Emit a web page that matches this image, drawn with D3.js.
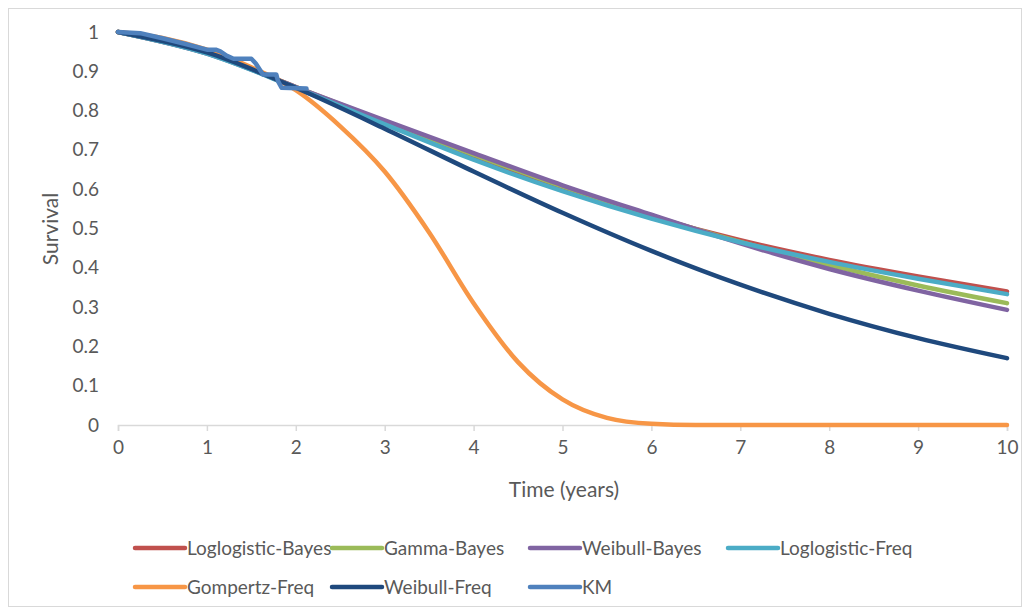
<!DOCTYPE html>
<html>
<head>
<meta charset="utf-8">
<script src="https://cdn.jsdelivr.net/npm/d3@7"></script>
<style>
  body { margin: 0; background: #fff; }
  text { font-family: Lato, "Open Sans", sans-serif; fill: #595959; }
</style>
</head>
<body>
<div id="chart"></div>
<script>
// time points (years)
var years = [0, 1, 2, 3, 4, 5, 6, 7, 8, 9, 10];
var halfYears = [0, 0.5, 1, 1.5, 2, 2.5, 3, 3.5, 4, 4.5, 5, 5.5, 6, 6.5, 7, 7.5, 8, 8.5, 9, 9.5, 10];

// modelled survival
var loglogBayes = [1, 0.946, 0.86, 0.768, 0.68, 0.6, 0.53, 0.47, 0.42, 0.378, 0.34];
var gammaBayes  = [1, 0.946, 0.86, 0.772, 0.688, 0.607, 0.533, 0.466, 0.407, 0.355, 0.31];
var weibBayes   = [1, 0.945, 0.86, 0.775, 0.692, 0.61, 0.535, 0.462, 0.397, 0.342, 0.293];
var loglogFreq  = [1, 0.945, 0.858, 0.765, 0.675, 0.595, 0.525, 0.465, 0.415, 0.372, 0.333];
var gompFreq    = [1, 0.985, 0.955, 0.91, 0.852, 0.76, 0.645, 0.49, 0.31, 0.16, 0.065, 0.018, 0.003, 0, 0, 0, 0, 0, 0, 0, 0];
var weibFreq    = [1, 0.948, 0.858, 0.754, 0.645, 0.54, 0.443, 0.357, 0.283, 0.221, 0.17];

// Kaplan-Meier
var kmTime = [0, 0.25, 0.5, 0.75, 1.0, 1.1, 1.15, 1.22, 1.3, 1.5, 1.55, 1.63, 1.78, 1.8, 1.84, 2.12];
var kmSurv = [1, 0.997, 0.984, 0.97, 0.955, 0.955, 0.951, 0.94, 0.932, 0.932, 0.92, 0.892, 0.892, 0.875, 0.858, 0.856];

var xTicks = [0, 1, 2, 3, 4, 5, 6, 7, 8, 9, 10];
var yTicks = [0, 0.1, 0.2, 0.3, 0.4, 0.5, 0.6, 0.7, 0.8, 0.9, 1];

var series = [
  {name: "Loglogistic-Bayes", color: "#C0504D", t: years, s: loglogBayes},
  {name: "Gamma-Bayes",       color: "#9BBB59", t: years, s: gammaBayes},
  {name: "Weibull-Bayes",     color: "#8064A2", t: years, s: weibBayes},
  {name: "Loglogistic-Freq",  color: "#4BACC6", t: years, s: loglogFreq},
  {name: "Gompertz-Freq",     color: "#F79646", t: halfYears, s: gompFreq},
  {name: "Weibull-Freq",      color: "#1F497D", t: years, s: weibFreq},
  {name: "KM",                color: "#4F81BD", t: kmTime, s: kmSurv, km: true}
];

var W = 1030, H = 615;
var svg = d3.select("#chart").append("svg")
    .attr("width", W)
    .attr("height", H);

// chart border
svg.append("rect")
    .attr("x", 8.5).attr("y", 8.5)
    .attr("width", 1013).attr("height", 598)
    .attr("fill", "none")
    .attr("stroke", "#D9D9D9");

var x = d3.scaleLinear().domain([0, 10]).range([118, 1007]);
var y = d3.scaleLinear().domain([0, 1]).range([425, 32]);

// x axis
var xAxis = svg.append("g")
    .attr("transform", "translate(0," + y(0) + ")")
    .call(d3.axisBottom(x).tickValues(xTicks).tickSize(6).tickPadding(10).tickFormat(d3.format("d")));
xAxis.select(".domain").attr("stroke", "#D9D9D9").attr("stroke-width", 1.5);
xAxis.selectAll(".tick line").attr("stroke", "#D9D9D9").attr("stroke-width", 1.5);
xAxis.selectAll(".tick text").style("font-size", "19px").attr("fill", "#595959");

// y axis (labels only)
var yAxis = svg.append("g")
    .attr("transform", "translate(118,0)")
    .call(d3.axisLeft(y).tickValues(yTicks).tickSize(0).tickPadding(19).tickFormat(function (d) { return d3.format("~g")(d); }));
yAxis.select(".domain").remove();
yAxis.selectAll(".tick text").style("font-size", "19px").attr("fill", "#595959");

// axis titles
svg.append("text")
    .attr("x", 564).attr("y", 497)
    .attr("text-anchor", "middle")
    .style("font-size", "21px")
    .text("Time (years)");

svg.append("text")
    .attr("transform", "translate(58,229) rotate(-90)")
    .attr("text-anchor", "middle")
    .style("font-size", "21px")
    .text("Survival");

// lines
series.forEach(function (d) {
  var pts = d.t.map(function (t, i) { return [t, d.s[i]]; });
  var line = d3.line()
      .x(function (p) { return x(p[0]); })
      .y(function (p) { return y(p[1]); })
      .curve(d.km ? d3.curveLinear : d3.curveMonotoneX);
  svg.append("path")
      .datum(pts)
      .attr("d", line)
      .attr("fill", "none")
      .attr("stroke", d.color)
      .attr("stroke-width", 4.5)
      .attr("stroke-linejoin", "round")
      .attr("stroke-linecap", "round");
});

// legend
var legendPos = [
  [135, 548], [332, 548], [530, 548], [728, 548],
  [135, 587], [332, 587], [530, 587]
];
series.forEach(function (d, i) {
  var g = svg.append("g").attr("transform", "translate(" + legendPos[i][0] + "," + legendPos[i][1] + ")");
  g.append("line")
      .attr("x1", 0).attr("x2", 50)
      .attr("stroke", d.color)
      .attr("stroke-width", 4.5)
      .attr("stroke-linecap", "round");
  g.append("text")
      .attr("x", 52).attr("dy", "0.35em")
      .style("font-size", "19px")
      .text(d.name);
});
</script>
</body>
</html>
